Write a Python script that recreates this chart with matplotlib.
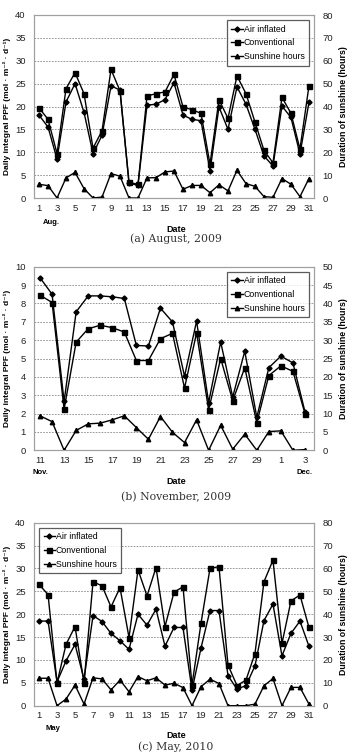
import numpy as np
import matplotlib.pyplot as plt
from matplotlib.lines import Line2D

plt.rcParams['font.family'] = ['Liberation Sans', 'DejaVu Sans']

# (a) August 2009
aug_days = list(range(1, 32))
aug_air = [18.1, 15.5, 8.5, 21.0, 25.0, 18.7, 9.7, 13.7, 24.5, 23.6, 3.2, 2.8, 20.3, 20.5, 21.5, 25.2,
           18.1, 17.2, 16.9, 5.9, 19.9, 15.0, 24.3, 20.5, 15.0, 9.2, 7.0, 20.1, 17.6, 9.6, 20.9]
aug_conv = [19.7, 17.2, 9.7, 23.9, 27.4, 22.8, 10.9, 14.7, 28.1, 23.4, 3.4, 3.0, 22.3, 22.8, 23.2, 27.0,
            19.9, 19.3, 18.5, 7.4, 21.5, 17.4, 26.7, 22.8, 16.6, 10.4, 7.7, 22.0, 18.5, 10.7, 24.5]
aug_sun = [6.0, 5.4, 0, 8.8, 11.2, 4.1, 0, 0.4, 10.7, 9.5, 0, 0, 8.8, 8.9, 11.4, 11.8,
           3.8, 5.5, 5.5, 2.3, 5.8, 3.1, 12.1, 6.3, 5.1, 0.6, 0.3, 8.5, 6.0, 0.6, 8.5]

# (b) November 2009 (Nov 11 - Dec 3)
nov_labels = ['11', '12', '13', '14', '15', '16', '17', '18', '19', '20', '21', '22', '23', '24', '25',
              '26', '27', '28', '29', '30', '1', '2', '3']
nov_air = [9.4, 8.5, 2.66, 7.54, 8.41, 8.41, 8.36, 8.27, 5.71, 5.68, 7.74, 6.99, 4.03, 7.04, 2.6,
           5.9, 2.9, 5.4, 1.8, 4.5, 5.13, 4.76, 2.1]
nov_conv = [8.45, 8.05, 2.24, 5.89, 6.62, 6.81, 6.68, 6.44, 4.89, 4.89, 6.08, 6.37, 3.39, 6.4, 2.2,
            5.0, 2.7, 4.5, 1.5, 4.07, 4.6, 4.3, 2.0]
nov_sun = [9.4, 7.8, 0, 5.4, 7.2, 7.4, 8.3, 9.4, 6.2, 3.0, 9.2, 4.9, 2.1, 8.3, 0,
           6.8, 0.3, 4.4, 0, 5.1, 5.3, 0, 0.2]

# (c) May 2010
may_days = list(range(1, 32))
may_air = [18.5, 18.5, 5.2, 9.8, 13.4, 5.8, 19.7, 18.4, 15.8, 14.2, 12.3, 20.0, 17.6, 21.1, 13.0, 17.1,
           17.1, 3.4, 12.6, 20.8, 20.8, 6.6, 3.6, 4.4, 8.7, 18.6, 22.2, 10.9, 15.8, 18.5, 13.0]
may_conv = [26.5, 24.3, 5.0, 13.4, 17.3, 5.0, 27.1, 26.2, 21.6, 25.8, 14.9, 29.7, 24.0, 30.2, 17.3, 24.8,
            26.0, 4.5, 18.0, 30.0, 30.4, 8.9, 4.4, 5.6, 11.4, 27.1, 31.8, 13.6, 22.9, 24.2, 17.1]
may_sun = [12.0, 12.0, 0, 2.9, 9.0, 0.7, 12.2, 11.7, 6.9, 11.2, 6.1, 12.7, 10.9, 12.2, 9.0, 9.8,
           7.9, 0, 8.3, 11.6, 9.7, 0, 0, 0, 0.7, 8.7, 11.9, 0, 8.0, 8.0, 0.7]

W, H = 347, 753
fig = plt.figure(figsize=(W / 100, H / 100), dpi=100)

ylab = 'Daily integral PPF (mol · m⁻² · d⁻¹)'
rlab = 'Duration of sunshine (hours)'
gray = '#a0a0a0'


def panel(top, bot, x, air, conv, sun, ymax, ystep, rmax, rstep, xlim, ticks, ticklabels, legloc):
    ax = fig.add_axes([34 / W, 1 - bot / H, 280 / W, (bot - top) / H])
    ax2 = ax.twinx()
    ax.plot(x, air, color='black', lw=1.0, marker='D', ms=2.6, zorder=3)
    ax.plot(x, conv, color='black', lw=1.0, marker='s', ms=3.6, zorder=3)
    ax2.plot(x, sun, color='black', lw=1.0, marker='^', ms=3.2)
    ax.set_ylim(0, ymax)
    ax2.set_ylim(0, rmax)
    ax.set_yticks(np.arange(0, ymax + 0.01, ystep))
    ax2.set_yticks(np.arange(0, rmax + 0.01, rstep))
    ax.set_xlim(*xlim)
    ax.set_xticks(ticks)
    ax.set_xticklabels(ticklabels)
    ax.grid(axis='y', color='#888888', ls=(0, (2, 1.5)), lw=0.6)
    ax.set_axisbelow(True)
    for a in (ax, ax2):
        for s in a.spines.values():
            s.set_color(gray)
            s.set_linewidth(0.8)
        a.tick_params(length=0, labelsize=6.8, colors='#222222', pad=4)
    ax.tick_params(axis='y', pad=6)
    ax2.tick_params(axis='y', pad=6)
    ax.set_ylabel(ylab, fontsize=6, fontweight='bold', labelpad=3)
    ax2.set_ylabel(rlab, fontsize=6.3, fontweight='bold', labelpad=4)
    handles = [Line2D([], [], color='black', lw=1.0, marker='D', ms=2.6),
               Line2D([], [], color='black', lw=1.0, marker='s', ms=3.6),
               Line2D([], [], color='black', lw=1.0, marker='^', ms=3.2)]
    leg = ax2.legend(handles, ['Air inflated', 'Conventional', 'Sunshine hours'], loc=legloc,
                     fontsize=6.3, frameon=True, fancybox=False, handlelength=1.3, handletextpad=0.1,
                     borderpad=0.5, labelspacing=0.55, borderaxespad=0.6)
    leg.get_frame().set_edgecolor('#333333')
    leg.get_frame().set_linewidth(0.9)
    return ax


def ftext(x, y, s, **kw):
    fig.text(x / W, 1 - y / H, s, ha='center', va='center', **kw)


cap = dict(fontsize=7.8, family='DejaVu Serif', color='#333333')

panel(15, 198, aug_days, aug_air, aug_conv, aug_sun, 40, 5, 80, 10, (0.44, 31.56),
      list(range(1, 32, 2)), [str(d) for d in range(1, 32, 2)], 'upper right')
ftext(51, 222, 'Aug.', fontsize=5.5, fontweight='bold')
ftext(176, 229, 'Date', fontsize=6.5, fontweight='bold')
ftext(176, 239, '(a) August, 2009', **cap)

nx = list(range(len(nov_labels)))
panel(266.7, 450.3, nx, nov_air, nov_conv, nov_sun, 10, 1, 50, 5, (-0.5, 22.75),
      nx[::2], nov_labels[::2], 'upper right')
ftext(40, 472, 'Nov.', fontsize=5.5, fontweight='bold')
ftext(305, 472, 'Dec.', fontsize=5.5, fontweight='bold')
ftext(176, 482, 'Date', fontsize=6.5, fontweight='bold')
ftext(176, 497, '(b) November, 2009', **cap)

panel(522.7, 705.7, may_days, may_air, may_conv, may_sun, 40, 5, 80, 10, (0.44, 31.56),
      list(range(1, 32, 2)), [str(d) for d in range(1, 32, 2)], 'upper left')
ftext(53, 729, 'May', fontsize=5.5, fontweight='bold')
ftext(176, 736, 'Date', fontsize=6.5, fontweight='bold')
ftext(176, 747, '(c) May, 2010', **cap)

fig.savefig('out.png', dpi=100)
